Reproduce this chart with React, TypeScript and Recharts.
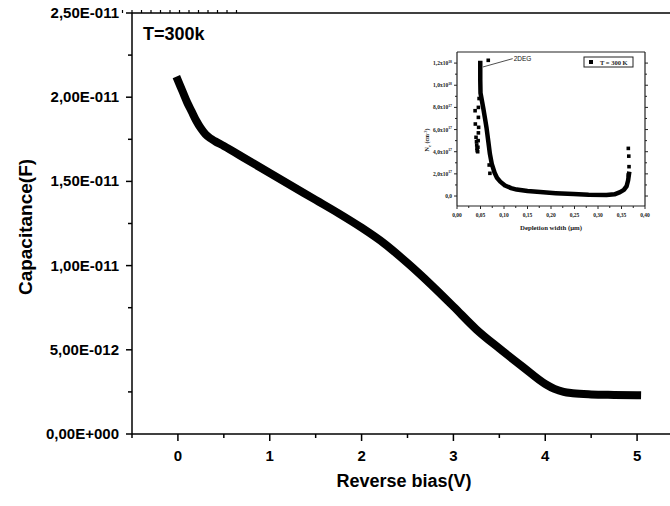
import React from 'react';
import { ComposedChart, Line, Scatter, XAxis, YAxis, ReferenceLine, ReferenceDot } from 'recharts';

// ---- Main chart data: C-V at T=300K ----
const biasV = [0, 0.05, 0.1, 0.15, 0.2, 0.25, 0.3, 0.35, 0.4, 0.5, 0.75, 1.0, 1.25, 1.5, 1.75, 2.0, 2.25, 2.5, 2.75, 3.0, 3.25, 3.5, 3.75, 4.0, 4.1, 4.2, 4.3, 4.5, 4.75, 5.0];
const capacitanceF = [2.10e-11, 2.035e-11, 1.97e-11, 1.915e-11, 1.86e-11, 1.815e-11, 1.78e-11, 1.757e-11, 1.74e-11, 1.71e-11, 1.63e-11, 1.55e-11, 1.47e-11, 1.39e-11, 1.31e-11, 1.225e-11, 1.13e-11, 1.015e-11, 0.89e-11, 0.757e-11, 0.621e-11, 0.508e-11, 0.401e-11, 0.297e-11, 0.268e-11, 0.25e-11, 0.242e-11, 0.235e-11, 0.232e-11, 0.23e-11];
const mainXTicks = [-0.5, 0, 0.5, 1, 1.5, 2, 2.5, 3, 3.5, 4, 4.5, 5, 5.5];
const mainYTicks = [0, 2.5e-12, 5e-12, 7.5e-12, 1e-11, 1.25e-11, 1.5e-11, 1.75e-11, 2e-11, 2.25e-11, 2.5e-11];

// ---- Inset data: carrier density vs depletion width (N in 1e17 cm^-3) ----
const insetCurveX = [0.0495, 0.0495, 0.050, 0.053, 0.056, 0.060, 0.063, 0.067, 0.070, 0.074, 0.080, 0.085, 0.092, 0.102, 0.115, 0.127, 0.15, 0.177, 0.21, 0.248, 0.28, 0.318, 0.335, 0.347, 0.355, 0.361, 0.364, 0.366];
const insetCurveN = [12.0, 10.5, 9.3, 8.6, 7.9, 6.9, 6.1, 4.8, 3.8, 2.9, 2.1, 1.65, 1.3, 0.95, 0.72, 0.58, 0.45, 0.36, 0.26, 0.18, 0.12, 0.09, 0.15, 0.35, 0.55, 0.9, 1.4, 2.0];
const insetOutlierX = [0.0385, 0.039, 0.0405, 0.0415, 0.042, 0.0425, 0.043, 0.044, 0.0445, 0.045, 0.0455, 0.0455, 0.0455, 0.046, 0.047, 0.0665, 0.0685, 0.070, 0.3645, 0.3655, 0.366, 0.3645];
const insetOutlierN = [7.7, 6.5, 5.3, 4.9, 4.6, 4.3, 4.1, 4.0, 4.4, 5.0, 5.7, 7.1, 8.0, 6.2, 8.8, 12.25, 2.8, 2.05, 4.3, 3.6, 2.65, 1.9];
const insetXTicks = [0, 0.025, 0.05, 0.075, 0.1, 0.125, 0.15, 0.175, 0.2, 0.225, 0.25, 0.275, 0.3, 0.325, 0.35, 0.375, 0.4];
const insetYTicks = [0, 1, 2, 3, 4, 5, 6, 7, 8, 9, 10, 11, 12];

const mainData = biasV.map((v, i) => ({ v, c: capacitanceF[i] }));
const insetCurve = insetCurveX.map((x, i) => ({ x, n: insetCurveN[i] }));
const insetOutliers = insetOutlierX.map((x, i) => ({ x, n: insetOutlierN[i] }));

const SANS = '"Liberation Sans", Arial, sans-serif';
const SERIF = '"Liberation Serif", "Times New Roman", serif';

function fmtCap(v: number): string {
  if (v === 0) return '0,00E+000';
  const exp = Math.floor(Math.log10(v) + 1e-9);
  const mant = v / Math.pow(10, exp);
  const sign = exp < 0 ? '-' : '+';
  const e = String(Math.abs(exp)).padStart(3, '0');
  return mant.toFixed(2).replace('.', ',') + 'E' + sign + e;
}

const MainYTick = (props: any) => {
  const { x, y, payload } = props;
  const v = payload.value;
  const major = Math.round(v / 2.5e-12) % 2 === 0;
  return (
    <g>
      <line x1={x} x2={x - (major ? 6 : 4)} y1={y} y2={y} stroke="#000" strokeWidth={1.5} />
      {major && (
        <text x={x - 13} y={y + 5} textAnchor="end" fontFamily={SANS} fontWeight="bold" fontSize={15} fill="#000">
          {fmtCap(v)}
        </text>
      )}
    </g>
  );
};

const MainXTick = (props: any) => {
  const { x, y, payload } = props;
  const v = payload.value;
  const major = Math.abs(v - Math.round(v)) < 1e-6;
  return (
    <g>
      <line x1={x} x2={x} y1={y} y2={y + (major ? 7 : 4)} stroke="#000" strokeWidth={1.5} />
      {major && (
        <text x={x} y={y + 27} textAnchor="middle" fontFamily={SANS} fontWeight="bold" fontSize={15} fill="#000">
          {v}
        </text>
      )}
    </g>
  );
};

const MainTopTick = (props: any) => {
  const { x, y } = props;
  return <line x1={x} x2={x} y1={y} y2={y - 3} stroke="#000" strokeWidth={1.2} />;
};

const InsetXTick = (props: any) => {
  const { x, y, payload } = props;
  const v = payload.value;
  const major = Math.round(v / 0.025) % 2 === 0;
  return (
    <g>
      <line x1={x} x2={x} y1={y} y2={y + (major ? 3 : 2)} stroke="#222" strokeWidth={1} />
      {major && (
        <text x={x} y={y + 11} textAnchor="middle" fontFamily={SERIF} fontWeight="bold" fontSize={5.5} fill="#222">
          {v.toFixed(2).replace('.', ',')}
        </text>
      )}
    </g>
  );
};

const InsetTopTick = (props: any) => {
  const { x, y, payload } = props;
  const major = Math.round(payload.value / 0.025) % 2 === 0;
  return <line x1={x} x2={x} y1={y} y2={y - (major ? 3 : 2)} stroke="#222" strokeWidth={1} />;
};

const InsetYTick = (props: any) => {
  const { x, y, payload } = props;
  const v = payload.value;
  const major = Math.round(v) % 2 === 0;
  let label: any = null;
  if (major) {
    if (v === 0) {
      label = '0,0';
    } else {
      const exp = v >= 10 ? 18 : 17;
      const mant = v >= 10 ? v / 10 : v;
      label = (
        <>
          {mant.toFixed(1).replace('.', ',')}x10
          <tspan dy={-2.5} fontSize={3.8}>{exp}</tspan>
        </>
      );
    }
  }
  return (
    <g>
      <line x1={x} x2={x - (major ? 3 : 2)} y1={y} y2={y} stroke="#222" strokeWidth={1} />
      {major && (
        <text x={x - 5} y={y + 2} textAnchor="end" fontFamily={SERIF} fontWeight="bold" fontSize={5.5} fill="#222">
          {label}
        </text>
      )}
    </g>
  );
};

const InsetRightTick = (props: any) => {
  const { x, y, payload } = props;
  const major = Math.round(payload.value) % 2 === 0;
  return <line x1={x} x2={x + (major ? 3 : 2)} y1={y} y2={y} stroke="#222" strokeWidth={1} />;
};

const SquareDot = (props: any) => {
  const { cx, cy } = props;
  if (cx == null || cy == null) return null;
  return <rect x={cx - 1.8} y={cy - 1.8} width={3.6} height={3.6} fill="#000" />;
};

export default function App() {
  return (
    <div style={{ position: 'fixed', left: 0, top: 0, width: 670, height: 506, overflow: 'hidden', background: '#fff' }}>
      <div style={{ position: 'absolute', left: 0, top: 0 }}>
        <ComposedChart width={700} height={506} data={mainData} margin={{ top: 12, right: 16, bottom: 32, left: 72 }}>
          <XAxis
            xAxisId="bottom"
            dataKey="v"
            type="number"
            domain={[-0.5, 5.5]}
            allowDataOverflow
            ticks={mainXTicks}
            interval={0}
            tickSize={0}
            tickMargin={0}
            tick={<MainXTick />}
            height={40}
            axisLine={{ stroke: '#000', strokeWidth: 1.5 }}
          />
          <XAxis
            xAxisId="top"
            orientation="top"
            type="number"
            domain={[-0.5, 5.5]}
            allowDataOverflow
            ticks={mainXTicks}
            interval={0}
            tickSize={0}
            tickMargin={0}
            tick={<MainTopTick />}
            height={1}
            axisLine={{ stroke: '#000', strokeWidth: 1.5 }}
          />
          <YAxis
            yAxisId="left"
            type="number"
            domain={[0, 2.5e-11]}
            allowDataOverflow
            ticks={mainYTicks}
            interval={0}
            tickSize={0}
            tickMargin={0}
            tick={<MainYTick />}
            width={60}
            axisLine={{ stroke: '#000', strokeWidth: 1.5 }}
          />
          <YAxis
            yAxisId="right"
            orientation="right"
            type="number"
            domain={[0, 2.5e-11]}
            ticks={mainYTicks}
            tick={false}
            tickLine={false}
            width={1}
            axisLine={{ stroke: '#000', strokeWidth: 1.5 }}
          />
          <Line
            xAxisId="bottom"
            yAxisId="left"
            dataKey="c"
            type="monotone"
            stroke="#000"
            strokeWidth={8}
            strokeLinecap="square"
            strokeLinejoin="round"
            dot={false}
            isAnimationActive={false}
          />
          <text x={143} y={40} fontFamily={SANS} fontWeight="bold" fontSize={18} fill="#000">T=300k</text>
          <text x={404} y={487} textAnchor="middle" fontFamily={SANS} fontWeight="bold" fontSize={18} fill="#000">Reverse bias(V)</text>
          <text x={25} y={227} transform="rotate(-90, 25, 227)" textAnchor="middle" dominantBaseline="central" fontFamily={SANS} fontWeight="bold" fontSize={19} fill="#000">Capacitance(F)</text>
        </ComposedChart>
      </div>
      <div style={{ position: 'absolute', left: 400, top: 30 }}>
        <ComposedChart width={260} height={210} margin={{ top: 21, right: 14, bottom: 14, left: 27 }}>
          <XAxis
            xAxisId="b"
            dataKey="x"
            type="number"
            domain={[0, 0.4]}
            allowDataOverflow
            ticks={insetXTicks}
            interval={0}
            tickSize={0}
            tickMargin={0}
            tick={<InsetXTick />}
            height={20}
            axisLine={{ stroke: '#222', strokeWidth: 1.2 }}
          />
          <XAxis
            xAxisId="t"
            orientation="top"
            type="number"
            domain={[0, 0.4]}
            allowDataOverflow
            ticks={insetXTicks}
            interval={0}
            tickSize={0}
            tickMargin={0}
            tick={<InsetTopTick />}
            height={1}
            axisLine={{ stroke: '#222', strokeWidth: 1.2 }}
          />
          <YAxis
            yAxisId="l"
            type="number"
            domain={[-0.9, 13]}
            allowDataOverflow
            ticks={insetYTicks}
            interval={0}
            tickSize={0}
            tickMargin={0}
            tick={<InsetYTick />}
            width={30}
            axisLine={{ stroke: '#222', strokeWidth: 1.2 }}
          />
          <YAxis
            yAxisId="r"
            orientation="right"
            type="number"
            domain={[-0.9, 13]}
            allowDataOverflow
            ticks={insetYTicks}
            interval={0}
            tickSize={0}
            tickMargin={0}
            tick={<InsetRightTick />}
            width={1}
            axisLine={{ stroke: '#222', strokeWidth: 1.2 }}
          />
          <Line
            xAxisId="b"
            yAxisId="l"
            data={insetCurve}
            dataKey="n"
            type="linear"
            stroke="#000"
            strokeWidth={4.5}
            strokeLinejoin="round"
            strokeLinecap="square"
            dot={false}
            isAnimationActive={false}
            name="T = 300 K"
          />
          <Scatter
            xAxisId="b"
            yAxisId="l"
            data={insetOutliers}
            dataKey="n"
            fill="#000"
            shape={<SquareDot />}
            isAnimationActive={false}
          />
          <ReferenceLine
            xAxisId="b"
            yAxisId="l"
            segment={[{ x: 0.0553, y: 11.65 }, { x: 0.1185, y: 12.4 }]}
            stroke="#222"
            strokeWidth={0.8}
          />
          <ReferenceDot
            xAxisId="b"
            yAxisId="l"
            x={0.1185}
            y={12.4}
            r={0}
            fill="none"
            stroke="none"
            label={{ value: '2DEG', position: 'right', offset: 1, fontSize: 6.5, fill: '#111', fontFamily: SANS }}
          />
          <g>
            <rect x={184} y={27} width={49} height={10} fill="#fff" stroke="#222" strokeWidth={1} />
            <rect x={189} y={30} width={4} height={4} fill="#000" />
            <text x={200} y={34.5} fontFamily={SERIF} fontWeight="bold" fontSize={6.5} fill="#222">T = 300 K</text>
          </g>
          <text x={151} y={200} textAnchor="middle" fontFamily={SERIF} fontWeight="bold" fontSize={6.8} fill="#222">Depletion width (μm)</text>
          <text x={27} y={110} transform="rotate(-90, 27, 110)" textAnchor="middle" dominantBaseline="central" fontFamily={SERIF} fontWeight="bold" fontSize={6} fill="#222">
            N<tspan dy={1.5} fontSize={4.5}>e</tspan><tspan dy={-1.5}> (cm</tspan><tspan dy={-2} fontSize={4}>-3</tspan><tspan dy={2}>)</tspan>
          </text>
        </ComposedChart>
      </div>
    </div>
  );
}
